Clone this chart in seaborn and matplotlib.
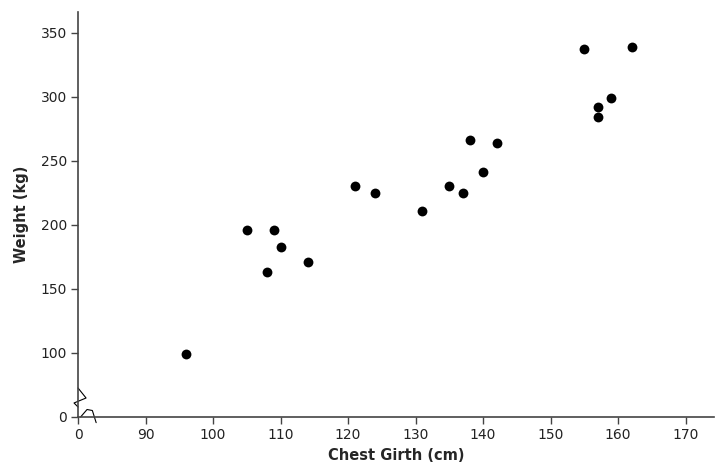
import numpy as np
import pandas as pd
import matplotlib
matplotlib.use('Agg')
import matplotlib.pyplot as plt
import seaborn as sns

# values
chest_girth = [96, 105, 109, 110, 108, 114, 121, 124, 131, 135, 137, 138, 140, 142,
               155, 162, 157, 157, 159]
weight = [98, 196, 196, 183, 163, 171, 230, 225, 211, 230, 225, 266, 241, 264,
          337, 339, 292, 284, 299]
x_ticks = [0, 90, 100, 110, 120, 130, 140, 150, 160, 170]
y_ticks = [0, 100, 150, 200, 250, 300, 350]

data = pd.DataFrame({'Chest Girth (cm)': chest_girth, 'Weight (kg)': weight})

sns.set_style('white')
plt.rcParams['font.family'] = ['DejaVu Sans']

fig = plt.figure(figsize=(7.16, 4.68), dpi=100)
ax = fig.add_axes([0.109, 0.109, 0.888, 0.865])

sns.scatterplot(data=data, x='Chest Girth (cm)', y='Weight (kg)', ax=ax,
                color='black', s=50, edgecolor='black', linewidth=0)

# broken axes: squeeze 0-90 and 0-100 into a short stretch
def fx(v):
    v = np.asarray(v, dtype=float)
    return np.where(v >= 90, v, 80 + v / 9)

def fx_inv(v):
    v = np.asarray(v, dtype=float)
    return np.where(v >= 90, v, (v - 80) * 9)

def fy(v):
    v = np.asarray(v, dtype=float)
    return np.where(v >= 100, v, 50 + v / 2)

def fy_inv(v):
    v = np.asarray(v, dtype=float)
    return np.where(v >= 100, v, (v - 50) * 2)

ax.set_xscale('function', functions=(fx, fx_inv))
ax.set_yscale('function', functions=(fy, fy_inv))
ax.set_xlim(0, 174.2)
ax.set_ylim(0, 366)
ax.set_xticks(x_ticks)
ax.set_yticks(y_ticks)
ax.set_xticklabels([str(t) for t in x_ticks])
ax.set_yticklabels([str(t) for t in y_ticks])
ax.minorticks_off()

for side in ['top', 'right']:
    ax.spines[side].set_visible(False)
for side in ['left', 'bottom']:
    ax.spines[side].set_color('#444444')
    ax.spines[side].set_linewidth(1.2)

ax.tick_params(axis='both', which='major', bottom=True, left=True, direction='out',
               length=5, width=1, color='#444444',
               labelsize=10, labelcolor='#222222', pad=3)
ax.set_xlabel('Chest Girth (cm)', fontsize=10.5, fontweight='bold', labelpad=4)
ax.set_ylabel('Weight (kg)', fontsize=10.5, fontweight='bold', labelpad=8)

# break marks near the origin
ax.plot([0, 0.0126, -0.0063, 0], [0.0716, 0.0469, 0.0346, 0.0247],
        transform=ax.transAxes, color='black', lw=0.8, clip_on=False)
ax.plot([0.004, 0.0142, 0.0225, 0.0285], [0, 0.0185, 0.016, -0.014],
        transform=ax.transAxes, color='black', lw=0.8, clip_on=False)

fig.savefig('out.png', dpi=100)
